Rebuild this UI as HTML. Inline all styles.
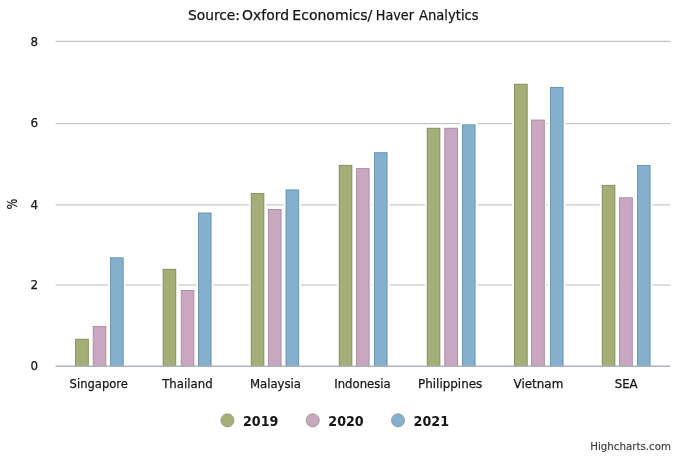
<!DOCTYPE html>
<html lang="en"><head><meta charset="utf-8"><title>Chart</title>
<style>
html,body{margin:0;padding:0;background:#fff;}
body{width:682px;height:456px;overflow:hidden;}
svg{display:block;font-family:"DejaVu Sans","Liberation Sans",sans-serif;}
</style></head><body>
<svg width="682" height="456" viewBox="0 0 682 456">
<rect x="0" y="0" width="682" height="456" fill="#ffffff"/>
<rect x="55.6" y="40.8" width="614.6" height="1.2" fill="#c2c2c2"/>
<rect x="55.6" y="123.0" width="614.6" height="1.15" fill="#c2c2c2"/>
<rect x="55.6" y="204.35" width="614.6" height="1.1" fill="#c2c2c2"/>
<rect x="55.6" y="284.45" width="614.6" height="1.1" fill="#c2c2c2"/>
<rect x="73.30" y="336.90" width="17.30" height="29.20" fill="#ffffff"/>
<rect x="75.60" y="339.20" width="12.70" height="27.30" fill="#a5ae77" stroke="#79834f" stroke-width="0.8"/>
<rect x="90.90" y="324.20" width="17.30" height="41.90" fill="#ffffff"/>
<rect x="93.20" y="326.50" width="12.70" height="40.00" fill="#c9a7c0" stroke="#a38399" stroke-width="0.8"/>
<rect x="108.20" y="255.50" width="17.30" height="110.60" fill="#ffffff"/>
<rect x="110.50" y="257.80" width="12.70" height="108.70" fill="#84b0cd" stroke="#5f89a6" stroke-width="0.8"/>
<rect x="160.80" y="267.00" width="17.30" height="99.10" fill="#ffffff"/>
<rect x="163.10" y="269.30" width="12.70" height="97.20" fill="#a5ae77" stroke="#79834f" stroke-width="0.8"/>
<rect x="178.90" y="288.10" width="17.30" height="78.00" fill="#ffffff"/>
<rect x="181.20" y="290.40" width="12.70" height="76.10" fill="#c9a7c0" stroke="#a38399" stroke-width="0.8"/>
<rect x="196.10" y="210.70" width="17.30" height="155.40" fill="#ffffff"/>
<rect x="198.40" y="213.00" width="12.70" height="153.50" fill="#84b0cd" stroke="#5f89a6" stroke-width="0.8"/>
<rect x="248.90" y="191.20" width="17.30" height="174.90" fill="#ffffff"/>
<rect x="251.20" y="193.50" width="12.70" height="173.00" fill="#a5ae77" stroke="#79834f" stroke-width="0.8"/>
<rect x="266.10" y="207.10" width="17.30" height="159.00" fill="#ffffff"/>
<rect x="268.40" y="209.40" width="12.70" height="157.10" fill="#c9a7c0" stroke="#a38399" stroke-width="0.8"/>
<rect x="283.70" y="187.60" width="17.30" height="178.50" fill="#ffffff"/>
<rect x="286.00" y="189.90" width="12.70" height="176.60" fill="#84b0cd" stroke="#5f89a6" stroke-width="0.8"/>
<rect x="336.90" y="163.00" width="17.30" height="203.10" fill="#ffffff"/>
<rect x="339.20" y="165.30" width="12.70" height="201.20" fill="#a5ae77" stroke="#79834f" stroke-width="0.8"/>
<rect x="354.10" y="166.30" width="17.30" height="199.80" fill="#ffffff"/>
<rect x="356.40" y="168.60" width="12.70" height="197.90" fill="#c9a7c0" stroke="#a38399" stroke-width="0.8"/>
<rect x="372.10" y="150.40" width="17.30" height="215.70" fill="#ffffff"/>
<rect x="374.40" y="152.70" width="12.70" height="213.80" fill="#84b0cd" stroke="#5f89a6" stroke-width="0.8"/>
<rect x="424.90" y="125.90" width="17.30" height="240.20" fill="#ffffff"/>
<rect x="427.20" y="128.20" width="12.70" height="238.30" fill="#a5ae77" stroke="#79834f" stroke-width="0.8"/>
<rect x="442.50" y="125.90" width="17.30" height="240.20" fill="#ffffff"/>
<rect x="444.80" y="128.20" width="12.70" height="238.30" fill="#c9a7c0" stroke="#a38399" stroke-width="0.8"/>
<rect x="460.10" y="122.50" width="17.30" height="243.60" fill="#ffffff"/>
<rect x="462.40" y="124.80" width="12.70" height="241.70" fill="#84b0cd" stroke="#5f89a6" stroke-width="0.8"/>
<rect x="512.20" y="81.90" width="17.30" height="284.20" fill="#ffffff"/>
<rect x="514.50" y="84.20" width="12.70" height="282.30" fill="#a5ae77" stroke="#79834f" stroke-width="0.8"/>
<rect x="529.30" y="117.70" width="17.30" height="248.40" fill="#ffffff"/>
<rect x="531.60" y="120.00" width="12.70" height="246.50" fill="#c9a7c0" stroke="#a38399" stroke-width="0.8"/>
<rect x="548.10" y="85.20" width="17.30" height="280.90" fill="#ffffff"/>
<rect x="550.40" y="87.50" width="12.70" height="279.00" fill="#84b0cd" stroke="#5f89a6" stroke-width="0.8"/>
<rect x="599.90" y="183.00" width="17.30" height="183.10" fill="#ffffff"/>
<rect x="602.20" y="185.30" width="12.70" height="181.20" fill="#a5ae77" stroke="#79834f" stroke-width="0.8"/>
<rect x="617.30" y="195.50" width="17.30" height="170.60" fill="#ffffff"/>
<rect x="619.60" y="197.80" width="12.70" height="168.70" fill="#c9a7c0" stroke="#a38399" stroke-width="0.8"/>
<rect x="635.10" y="163.20" width="17.30" height="202.90" fill="#ffffff"/>
<rect x="637.40" y="165.50" width="12.70" height="201.00" fill="#84b0cd" stroke="#5f89a6" stroke-width="0.8"/>
<rect x="55.6" y="365.55" width="614.6" height="1.4" fill="#a9b0be"/>
<text x="30.4" y="46.4" font-size="13" fill="#151515" stroke="#151515" stroke-width="0.25" textLength="7.6" lengthAdjust="spacingAndGlyphs">8</text>
<text x="30.4" y="127.1" font-size="13" fill="#151515" stroke="#151515" stroke-width="0.25" textLength="7.6" lengthAdjust="spacingAndGlyphs">6</text>
<text x="30.4" y="208.5" font-size="13" fill="#151515" stroke="#151515" stroke-width="0.25" textLength="7.6" lengthAdjust="spacingAndGlyphs">4</text>
<text x="30.4" y="288.9" font-size="13" fill="#151515" stroke="#151515" stroke-width="0.25" textLength="7.6" lengthAdjust="spacingAndGlyphs">2</text>
<text x="30.4" y="370.1" font-size="13" fill="#151515" stroke="#151515" stroke-width="0.25" textLength="7.6" lengthAdjust="spacingAndGlyphs">0</text>
<text transform="translate(16.5,209.2) rotate(-90)" font-size="14.5" fill="#151515" stroke="#151515" stroke-width="0.2" textLength="10.6" lengthAdjust="spacingAndGlyphs">%</text>
<text x="69.6" y="387.6" font-size="13" fill="#151515" stroke="#151515" stroke-width="0.25" textLength="58.3" lengthAdjust="spacingAndGlyphs">Singapore</text>
<text x="162.2" y="387.6" font-size="13" fill="#151515" stroke="#151515" stroke-width="0.25" textLength="50.4" lengthAdjust="spacingAndGlyphs">Thailand</text>
<text x="249.9" y="387.6" font-size="13" fill="#151515" stroke="#151515" stroke-width="0.25" textLength="51.1" lengthAdjust="spacingAndGlyphs">Malaysia</text>
<text x="334.2" y="387.6" font-size="13" fill="#151515" stroke="#151515" stroke-width="0.25" textLength="56.6" lengthAdjust="spacingAndGlyphs">Indonesia</text>
<text x="418.0" y="387.6" font-size="13" fill="#151515" stroke="#151515" stroke-width="0.25" textLength="64.3" lengthAdjust="spacingAndGlyphs">Philippines</text>
<text x="513.5" y="387.6" font-size="13" fill="#151515" stroke="#151515" stroke-width="0.25" textLength="49.8" lengthAdjust="spacingAndGlyphs">Vietnam</text>
<text x="614.7" y="387.6" font-size="13" fill="#151515" stroke="#151515" stroke-width="0.25" textLength="23.0" lengthAdjust="spacingAndGlyphs">SEA</text>
<text y="19.6" font-size="14.5" fill="#151515" stroke="#151515" stroke-width="0.25"><tspan x="188.0" textLength="52.0" lengthAdjust="spacingAndGlyphs">Source:</tspan> <tspan x="242.0" textLength="47.0" lengthAdjust="spacingAndGlyphs">Oxford</tspan> <tspan x="292.3" textLength="80.0" lengthAdjust="spacingAndGlyphs">Economics/</tspan> <tspan x="375.8" textLength="38.2" lengthAdjust="spacingAndGlyphs">Haver</tspan> <tspan x="419.0" textLength="59.6" lengthAdjust="spacingAndGlyphs">Analytics</tspan> </text>
<circle cx="227.4" cy="420.3" r="6.6" fill="#a5ae77" stroke="#8f9390" stroke-width="0.7"/>
<text x="243.0" y="425.8" font-size="14" font-weight="bold" fill="#151515" textLength="35.4" lengthAdjust="spacingAndGlyphs">2019</text>
<circle cx="312.7" cy="420.3" r="6.6" fill="#c9a7c0" stroke="#8f9390" stroke-width="0.7"/>
<text x="328.3" y="425.8" font-size="14" font-weight="bold" fill="#151515" textLength="35.4" lengthAdjust="spacingAndGlyphs">2020</text>
<circle cx="398.0" cy="420.3" r="6.6" fill="#84b0cd" stroke="#8f9390" stroke-width="0.7"/>
<text x="413.6" y="425.8" font-size="14" font-weight="bold" fill="#151515" textLength="35.4" lengthAdjust="spacingAndGlyphs">2021</text>
<text x="590.3" y="450.1" font-size="11" fill="#3c3c3c" stroke="#3c3c3c" stroke-width="0.15" textLength="80.6" lengthAdjust="spacingAndGlyphs">Highcharts.com</text>
</svg>
</body></html>
